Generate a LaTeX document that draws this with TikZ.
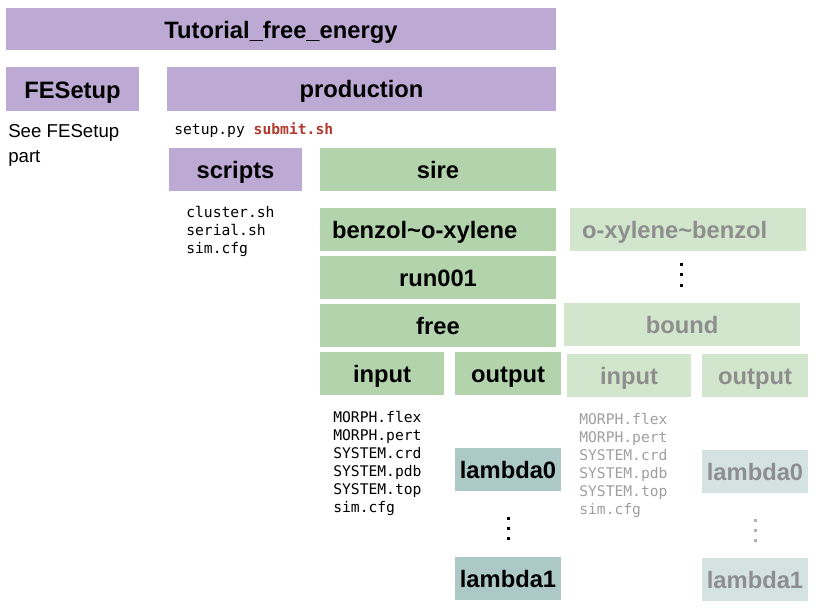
\documentclass[tikz,border=0pt]{standalone}
\usepackage{fontspec}
\setmainfont{Liberation Sans}
\setmonofont{DejaVu Sans Mono}
\usepackage{tikz}
\usetikzlibrary{positioning}

\definecolor{folderpurple}{HTML}{BCAAD4}
\definecolor{foldergreen}{HTML}{B2D3AC}
\definecolor{folderpale}{HTML}{D2E5CD}
\definecolor{folderteal}{HTML}{ACC9C6}
\definecolor{folderpaleteal}{HTML}{D4E3E1}
\definecolor{fadedtext}{HTML}{8E8E8E}
\definecolor{scriptred}{HTML}{B03A2E}

\begin{document}
\begin{tikzpicture}[
    x=0.75pt, y=-0.75pt,
    box/.style={rectangle, inner sep=0pt, minimum height=32.25pt, text height=18pt, text depth=3.8pt, font=\bfseries\fontsize{17.8}{21}\selectfont},
    top/.style={box, fill=folderpurple},
    sim/.style={box, fill=foldergreen},
    faded/.style={box, fill=folderpale, text=fadedtext},
    lam/.style={box, fill=folderteal, minimum width=79.5pt},
    fadedlam/.style={box, fill=folderpaleteal, text=fadedtext, minimum width=79.5pt},
    files/.style={anchor=north west, inner sep=0pt, align=left, font=\ttfamily\fontsize{11}{13.5}\selectfont},
    dot/.style={fill=black}
]
\useasboundingbox (0,0) rectangle (821,610);

% -------- Top level --------
\node[top, minimum width=412.5pt, minimum height=31.5pt] (tutorial) at (281,29) {Tutorial\_free\_energy};

\node[top, minimum width=99.75pt] (fesetup) at (72.5,89) {FESetup};
\node[top, minimum width=291.75pt, text depth=4.8pt] (production) at (361.5,89) {production};

\node[anchor=north west, inner sep=0pt, align=left, font=\fontsize{14}{18.75}\selectfont] (seepart) at (8,124) {See FESetup\\part};

\node[anchor=base west, inner sep=0pt, font=\ttfamily\fontsize{11}{13.5}\selectfont] (prodfiles) at (174,134) {setup.py \textcolor{scriptred}{\textbf{submit.sh}}};

% -------- Scripts --------
\node[top, minimum width=99.75pt, text depth=4.8pt] (scripts) at (235.5,169.5) {scripts};
\node[files] (scriptfiles) at (186,206) {cluster.sh\\serial.sh\\sim.cfg};

% -------- Sire tree --------
\node[sim, minimum width=177pt] (sire) at (438,169.5) {sire};
\node[sim, minimum width=177pt, text width=159pt, align=left] (forward) at (438,229.5) {benzol\textasciitilde o-xylene};
\node[faded, minimum width=177pt, text width=159pt, align=left] (backward) at (688,229.5) {o-xylene\textasciitilde benzol};
\node[sim, minimum width=177pt] (run) at (438,277.5) {run001};
\node[sim, minimum width=177pt] (free) at (438,325.5) {free};
\node[faded, minimum width=177pt] (bound) at (682,324.5) {bound};

% -------- Input / output --------
\node[sim, minimum width=93pt] (input) at (382,373.5) {input};
\node[sim, minimum width=79.5pt] (output) at (508,373.5) {output};
\node[faded, minimum width=93pt] (boundinput) at (629,375.5) {input};
\node[faded, minimum width=79.5pt] (boundoutput) at (755,375.5) {output};

\node[files] (inputfiles) at (333,411) {MORPH.flex\\MORPH.pert\\SYSTEM.crd\\SYSTEM.pdb\\SYSTEM.top\\sim.cfg};
\node[files, text=fadedtext!85] (boundfiles) at (579,413) {MORPH.flex\\MORPH.pert\\SYSTEM.crd\\SYSTEM.pdb\\SYSTEM.top\\sim.cfg};

% -------- Lambda windows --------
\node[lam] (lambda0) at (508,469.5) {lambda0};
\node[lam] (lambda1) at (508,578) {lambda1};
\node[fadedlam] (boundlambda0) at (755,471.5) {lambda0};
\node[fadedlam] (boundlambda1) at (755,579.5) {lambda1};

% -------- Dots --------
\foreach \y in {264,274.5,285} \fill[dot] (680.2,\y-1.5) rectangle ++(3,3);
\foreach \y in {518,528,538} \fill[dot] (506.5,\y-1.5) rectangle ++(3,3);
\foreach \y in {520,530,540} \fill[dot, fadedtext!70] (753.5,\y-1.5) rectangle ++(3,3);

\end{tikzpicture}
\end{document}
